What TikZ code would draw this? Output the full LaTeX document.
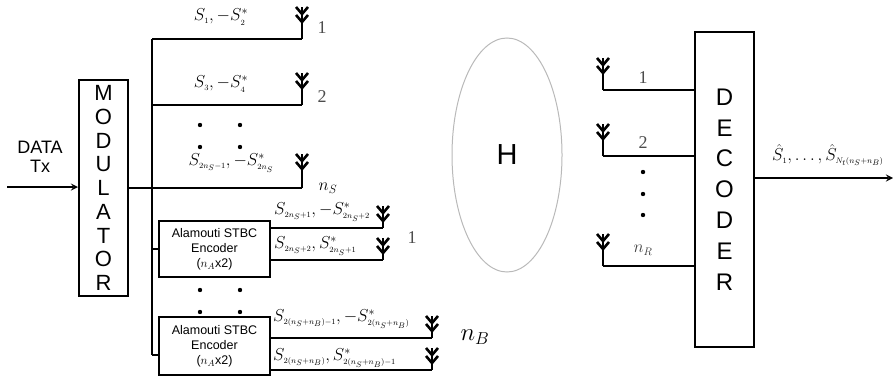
\documentclass[tikz,border=0pt]{standalone}
\usepackage{amsmath}
\usepackage{fontspec}
\setmainfont{Liberation Serif}
\setsansfont{Liberation Sans}
\usetikzlibrary{positioning, arrows, shapes.geometric}
\newcommand{\tsub}[1]{_{\scriptscriptstyle #1}} % tiny subscripts as in the labels
\tikzset{
    wire/.style={line width=2.1pt}, % all connecting lines
    blockbox/.style={draw, line width=2pt, inner sep=0pt, align=center}, % modulator, encoders, decoder
    lbl/.style={font=\fontsize{17}{20}\selectfont, inner sep=0pt}, % symbol labels on the branches
    num/.style={font=\fontsize{18}{20}\selectfont, text=black!70, inner sep=0pt}, % antenna numbers
    pics/antenna/.style={code={
        \draw[line width=2.1pt] (0,0) -- (0,-#1);
        \draw[line width=2.6pt] (-6,-#1) -- (0,-#1+7) -- (6,-#1);
        \draw[line width=2.6pt] (-6,-#1+8) -- (0,-#1+15) -- (6,-#1+8);
    }},
    >=stealth, % arrow heads
}

\begin{document}
\begin{tikzpicture}[x=1pt, y=-1pt]
\useasboundingbox (0,0) rectangle (893,377);

% transmitter side
\node[blockbox, minimum width=49pt, minimum height=216pt, font=\sffamily\fontsize{22}{23.75}\selectfont] (mod) at (103.5,188) {M\\O\\D\\U\\L\\A\\T\\O\\R};
\node[font=\sffamily\fontsize{18}{19}\selectfont, align=center, inner sep=0pt] (data) at (40,157) {DATA\\Tx};
\coordinate (in) at (7,187);
\draw[wire, ->] (in) -- (in -| mod.west);

\coordinate (bustop) at (152,39);
\coordinate (busbot) at (152,355);
\draw[wire] (bustop) -- (busbot);

\coordinate (t1) at (302,39);
\coordinate (t2) at (302,105);
\coordinate (t3) at (302,188);
\draw[wire] (bustop) -- (t1);
\draw[wire] (bustop |- t2) -- (t2);
\draw[wire] (mod.east |- t3) -- (t3);
\pic at (t1) {antenna=32};
\pic at (t2) {antenna=32};
\pic at (t3) {antenna=34};
\node[num] (n1) at (322,28) {1};
\node[num] (n2) at (322,97) {2};
\node[font=\fontsize{17}{20}\selectfont, inner sep=0pt] (nS) at (328,188) {$n_S$};
\node[lbl] (s1) at (221,17) {$S\tsub{1}, -S\tsub{2}^*$};
\node[lbl] (s2) at (221,84) {$S\tsub{3}, -S\tsub{4}^*$};
\node[lbl] (s3) at (231,163) {$S\tsub{2n_S-1}, -S^*\tsub{2n_S}$};
\foreach \y in {125,147} {
    \fill (200,\y) circle (2.2);
    \fill (240,\y) circle (2.2);
}

% Alamouti encoders
\node[blockbox, minimum width=111pt, minimum height=56pt, font=\sffamily\fontsize{12.5}{15}\selectfont] (enc1) at (214.5,249) {Alamouti STBC\\Encoder\\($n_A$x2)};
\node[blockbox, minimum width=111pt, minimum height=58pt, font=\sffamily\fontsize{12.5}{15}\selectfont] (enc2) at (214.5,346) {Alamouti STBC\\Encoder\\($n_A$x2)};
\draw[wire] (busbot |- enc1.west) -- (enc1.west);
\draw[wire] (busbot) -- (busbot -| enc2.west);
\foreach \y in {290,312} {
    \fill (200,\y) circle (2.2);
    \fill (240,\y) circle (2.2);
}

\coordinate (a1) at (383,228);
\coordinate (a2) at (383,260);
\coordinate (b1) at (432,338);
\coordinate (b2) at (432,370);
\draw[wire] (enc1.east |- a1) -- (a1);
\draw[wire] (enc1.east |- a2) -- (a2);
\draw[wire] (enc2.east |- b1) -- (b1);
\draw[wire] (enc2.east |- b2) -- (b2);
\pic at (a1) {antenna=22};
\pic at (a2) {antenna=22};
\pic at (b1) {antenna=22};
\pic at (b2) {antenna=22};
\node[lbl, anchor=west] (sa1) at (274,212) {$S\tsub{2n_S+1}, -S^*\tsub{2n_S+2}$};
\node[lbl, anchor=west] (sa2) at (274,246) {$S\tsub{2n_S+2}, S^*\tsub{2n_S+1}$};
\node[lbl, anchor=west] (sb1) at (273,319) {$S\tsub{2(n_S+n_B)-1}, -S^*\tsub{2(n_S+n_B)}$};
\node[lbl, anchor=west] (sb2) at (273,358) {$S\tsub{2(n_S+n_B)}, S^*\tsub{2(n_S+n_B)-1}$};
\node[num] (nA) at (412,238) {1};
\node[font=\fontsize{26}{28}\selectfont, inner sep=0pt] (nB) at (475,337) {$n_B$};

% channel
\node[draw=gray!55, line width=1pt, ellipse, minimum width=110pt, minimum height=234pt, inner sep=0pt, font=\sffamily\fontsize{29}{30}\selectfont] (chan) at (507,155) {H};

% receiver side
\node[blockbox, minimum width=59pt, minimum height=315pt, font=\sffamily\fontsize{24}{30.8}\selectfont] (dec) at (724.5,189.5) {D\\E\\C\\O\\D\\E\\R};
\coordinate (r1) at (603,90);
\coordinate (r2) at (603,156);
\coordinate (r3) at (603,266);
\draw[wire] (dec.west |- r1) -- (r1);
\draw[wire] (dec.west |- r2) -- (r2);
\draw[wire] (dec.west |- r3) -- (r3);
\pic at (r1) {antenna=32};
\pic at (r2) {antenna=32};
\pic at (r3) {antenna=32};
\node[num] (m1) at (643,78) {1};
\node[num] (m2) at (643,143) {2};
\node[font=\fontsize{16}{18}\selectfont, text=black!75, inner sep=0pt] (nR) at (643,250) {$n_R$};
\foreach \y in {172,194,215} {
    \fill (643,\y) circle (2.2);
}

\coordinate (out) at (893,178);
\draw[wire, ->] (dec.east |- out) -- (out);
\node[lbl, anchor=west] (est) at (772,155) {$\hat{S}\tsub{1},\ldots,\hat{S}\tsub{N_t(n_S+n_B)}$};
\end{tikzpicture}
\end{document}
